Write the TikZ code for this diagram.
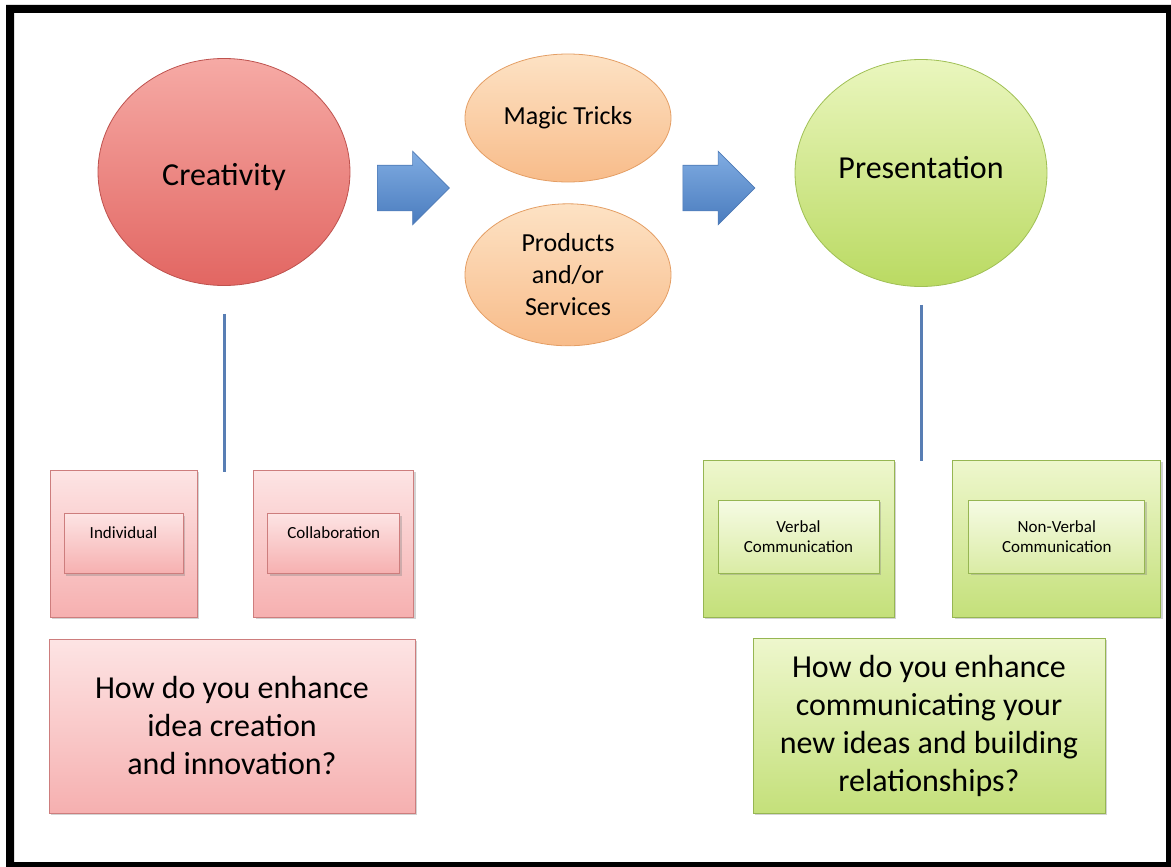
\documentclass[tikz,border=0pt]{standalone}
\usepackage{fontspec}
\setmainfont{Carlito}
\usepackage{tikz}
\usetikzlibrary{positioning}
\usetikzlibrary{shapes.geometric}
\usetikzlibrary{shapes.arrows}
\usetikzlibrary{shadows}

\definecolor{CreaTop}{RGB}{246,170,165}
\definecolor{CreaBot}{RGB}{226,102,98}
\definecolor{CreaLine}{RGB}{190,82,78}
\definecolor{PinkTop}{RGB}{253,228,228}
\definecolor{PinkBot}{RGB}{246,176,176}
\definecolor{PinkLine}{RGB}{205,125,125}
\definecolor{PeachTop}{RGB}{253,226,196}
\definecolor{PeachBot}{RGB}{248,188,138}
\definecolor{PeachLine}{RGB}{228,158,100}
\definecolor{PresTop}{RGB}{234,246,190}
\definecolor{PresBot}{RGB}{186,218,98}
\definecolor{PresLine}{RGB}{160,192,85}
\definecolor{GreenTop}{RGB}{238,247,205}
\definecolor{GreenBot}{RGB}{196,224,122}
\definecolor{GreenInTop}{RGB}{246,251,228}
\definecolor{GreenInBot}{RGB}{218,236,165}
\definecolor{GreenLine}{RGB}{150,182,82}
\definecolor{ArrowTop}{RGB}{128,172,226}
\definecolor{ArrowBot}{RGB}{74,124,190}
\definecolor{ArrowLine}{RGB}{78,122,182}
\definecolor{LinkBlue}{RGB}{88,126,180}

\begin{document}
\begin{tikzpicture}[x=1pt, y=-1pt,
  bigball/.style={ellipse, minimum width=252pt, minimum height=227pt, inner sep=0pt, line width=0.8pt, font=\fontsize{32}{38}\selectfont},
  idea/.style={ellipse, minimum width=206pt, inner sep=0pt, align=center, line width=0.8pt, top color=PeachTop, bottom color=PeachBot, draw=PeachLine, font=\fontsize{26}{32}\selectfont},
  flow/.style={single arrow, single arrow head extend=14pt, inner xsep=0pt, inner ysep=22.5pt, minimum height=72pt, line width=0.6pt, top color=ArrowTop, bottom color=ArrowBot, draw=ArrowLine},
  holder/.style={rectangle, inner sep=0pt, line width=0.8pt, drop shadow={shadow xshift=2pt, shadow yshift=-2pt, opacity=0.35}},
  pinkbox/.style={holder, top color=PinkTop, bottom color=PinkBot, draw=PinkLine},
  greenbox/.style={holder, top color=GreenTop, bottom color=GreenBot, draw=GreenLine},
  greenin/.style={holder, top color=GreenInTop, bottom color=GreenInBot, draw=GreenLine},
  small/.style={align=center, font=\fontsize{17}{20.5}\selectfont},
  ask/.style={align=center, font=\fontsize{32}{38}\selectfont},
  link/.style={draw=LinkBlue, line width=3pt}
]
\useasboundingbox (0,0) rectangle (1171,867);

\node[bigball, top color=CreaTop, bottom color=CreaBot, draw=CreaLine, text height=34pt, text depth=8pt] (creat) at (224,172) {Creativity};
\node[flow] (arr1) at (402,188) {};
\node[idea, minimum height=128pt] (magic) at (568,118) {Magic Tricks};
\node[idea, minimum height=142pt, below=21pt of magic] (prod) {Products\\and/or\\Services};
\node[flow] (arr2) at (707.5,188) {};
\node[bigball, top color=PresTop, bottom color=PresBot, draw=PresLine, text height=18pt, text depth=7pt] (pres) at (921,173) {Presentation};

\node[pinkbox, minimum width=147pt, minimum height=147pt] (indiv) at (123.5,543.5) {};
\node[pinkbox, small, minimum width=119pt, minimum height=60pt, text height=12pt, text depth=22pt] (indivin) at (indiv.center) {Individual};
\node[pinkbox, minimum width=160pt, minimum height=147pt, right=56pt of indiv] (collab) {};
\node[pinkbox, small, minimum width=132pt, minimum height=60pt, text height=12pt, text depth=22pt] (collabin) at (collab.center) {Collaboration};
\node[pinkbox, ask, minimum width=366pt, minimum height=174pt] (askpink) at (232,726) {How do you enhance\\idea creation\\and innovation?};

\node[greenbox, minimum width=191pt, minimum height=157pt] (verbal) at (798.5,538.5) {};
\node[greenin, small, minimum width=161pt, minimum height=73pt] (verbalin) at ([yshift=2pt]verbal.center) {Verbal\\Communication};
\node[greenbox, minimum width=208pt, minimum height=157pt, right=58pt of verbal] (nonverbal) {};
\node[greenin, small, minimum width=176pt, minimum height=73pt] (nonverbalin) at ([yshift=2pt]nonverbal.center) {Non-Verbal\\Communication};
\node[greenbox, ask, minimum width=352pt, minimum height=175pt] (askgreen) at (929,725.5) {How do you enhance\\communicating your\\new ideas and building\\relationships?};

\coordinate (cjoin) at (224,472);
\coordinate (pjoin) at (921,461);
\draw[link, shorten <=28pt] (creat.south) -- (cjoin);
\draw[link, shorten <=18pt] (pres.south) -- (pjoin);

\fill[black, even odd rule] (6,5) rectangle (1171,867) (14,13) rectangle (1166,862);
\end{tikzpicture}
\end{document}
